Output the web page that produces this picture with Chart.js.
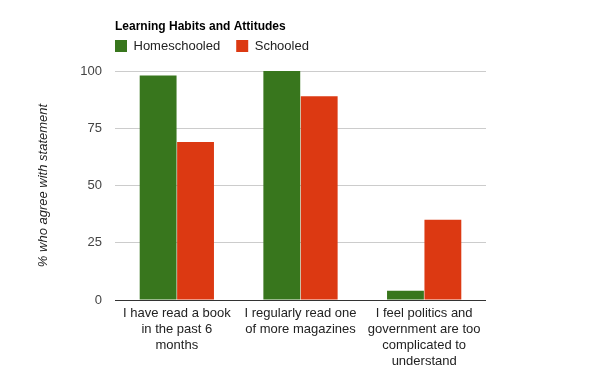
<!DOCTYPE html>
<html>
<head>
<meta charset="utf-8">
<script src="https://cdn.jsdelivr.net/npm/chart.js@4"></script>
<style>
  html, body { margin: 0; padding: 0; background: #fff; }
  #wrap { width: 600px; height: 371px; }
</style>
</head>
<body>
<div id="wrap"><canvas id="habitsChart" width="600" height="371"></canvas></div>
<script>
const categories = [
    ['I have read a book', 'in the past 6', 'months'],
    ['I regularly read one', 'of more magazines'],
    ['I feel politics and', 'government are too', 'complicated to', 'understand']
];
const homeschooled = [98, 100, 4];
const schooled = [69, 89, 35];
const yTicks = [0, 25, 50, 75, 100];

const font = 'Arial, "Liberation Sans", sans-serif';

// move the title and legend so they start at the plot's left edge, like the original
const alignTop = {
    id: 'alignTop',
    afterLayout(chart) {
        const left = chart.chartArea.left;
        if (chart.titleBlock) {
            chart.titleBlock.left = left;
        }
        const legend = chart.legend;
        if (legend) {
            legend.left = left - legend.options.labels.padding;
            legend.top -= 8.5;
            legend.bottom -= 8.5;
        }
    }
};

function criarGrafico() {
    const ctx = document.getElementById('habitsChart').getContext('2d');

    new Chart(ctx, {
        type: 'bar',
        data: {
            labels: categories,
            datasets: [{
                label: 'Homeschooled',
                data: homeschooled,
                backgroundColor: '#38761d',
                borderWidth: 0
            }, {
                label: 'Schooled',
                data: schooled,
                backgroundColor: '#dc3912',
                borderWidth: 0
            }]
        },
        options: {
            responsive: false,
            animation: false,
            layout: { padding: { left: 0, right: 114, top: 0, bottom: 0 } },
            datasets: {
                bar: { categoryPercentage: 0.605, barPercentage: 0.985 }
            },
            plugins: {
                title: {
                    display: true,
                    text: 'Learning Habits and Attitudes',
                    align: 'start',
                    color: '#000',
                    font: { family: font, size: 12, weight: 'bold' },
                    padding: { top: 19.3, bottom: -1.7 }
                },
                legend: {
                    display: true,
                    align: 'start',
                    labels: {
                        boxWidth: 12,
                        boxHeight: 12,
                        padding: 16,
                        color: '#222',
                        font: { family: font, size: 13 }
                    }
                },
                tooltip: { enabled: false }
            },
            scales: {
                x: {
                    grid: { display: false },
                    border: { display: false },
                    ticks: {
                        color: '#222',
                        padding: -3,
                        maxRotation: 0,
                        autoSkip: false,
                        font: { family: font, size: 13, lineHeight: 1.23 }
                    },
                    afterFit(axis) { axis.height = 71; }
                },
                y: {
                    min: 0,
                    max: 100,
                    afterBuildTicks(axis) {
                        axis.ticks = yTicks.map(v => ({ value: v }));
                    },
                    grid: {
                        drawTicks: false,
                        color: c => (c.tick && c.tick.value === 0) ? '#333' : '#ccc'
                    },
                    border: { display: false },
                    ticks: {
                        color: '#444',
                        padding: 13,
                        font: { family: font, size: 13 }
                    },
                    title: {
                        display: true,
                        text: '% who agree with statement',
                        color: '#222',
                        font: { family: font, size: 13, style: 'italic' },
                        padding: { top: 36, bottom: 0 }
                    },
                    afterFit(axis) { axis.width = 115; }
                }
            }
        },
        plugins: [alignTop]
    });
}

document.addEventListener('DOMContentLoaded', () => {
    criarGrafico();
});
</script>
</body>
</html>
